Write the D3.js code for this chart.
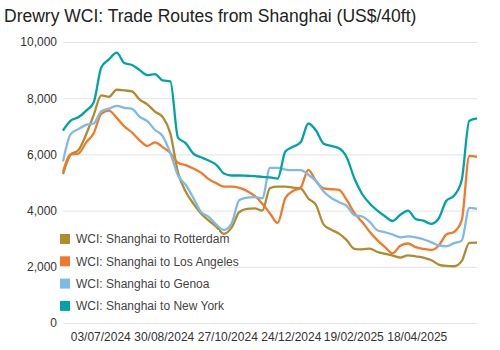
<!DOCTYPE html>
<html>
<head>
<meta charset="utf-8">
<script src="https://cdn.jsdelivr.net/npm/d3@7"></script>
<style>
  body { margin: 0; background: #fff; }
  text { font-family: "Liberation Sans", Arial, sans-serif; }
</style>
</head>
<body>
<div id="chart"></div>
<script>
// weekly Drewry WCI readings, Thursday 30/05/2024 .. 12/06/2025
const startDate = new Date(2024, 4, 30);
const tickDates = ["03/07/2024", "30/08/2024", "27/10/2024", "24/12/2024", "19/02/2025", "18/04/2025"];
const yTicks = [0, 2000, 4000, 6000, 8000, 10000];

const rotterdam = [5300, 6000, 6150, 6700, 7400, 8100, 8050, 8300, 8280, 8240,
  7950, 7780, 7520, 7330, 6750, 5350, 4680, 4250, 3900, 3650,
  3420, 3170, 3400, 3950, 4060, 4080, 4000, 4800, 4850, 4850,
  4820, 4790, 4430, 4200, 3500, 3320, 3180, 2950, 2640, 2620,
  2650, 2530, 2460, 2400, 2330, 2410, 2370, 2330, 2240, 2080,
  2030, 2020, 2200, 2850, 2860];
const losAngeles = [5380, 6000, 6030, 6420, 6750, 7450, 7560, 7300, 7000, 6780,
  6500, 6300, 6430, 6260, 6050, 5700, 5620, 5500, 5350, 5120,
  4970, 4850, 4850, 4810, 4700, 4520, 4240, 3900, 3560, 4450,
  4700, 4820, 5450, 5050, 4790, 4760, 4740, 4380, 3920, 3600,
  3250, 2950, 2700, 2480, 2750, 2830, 2700, 2640, 2600, 2750,
  3150, 3240, 3650, 5950, 5910];
const genoa = [5750, 6720, 6900, 7050, 7100, 7540, 7630, 7730, 7660, 7620,
  7340, 7180, 6870, 6650, 6050, 5250, 4920, 4450, 3950, 3780,
  3500, 3310, 3550, 4380, 4460, 4480, 4440, 5520, 5520, 5460,
  5440, 5440, 5270, 5050, 4680, 4450, 4300, 4170, 3840, 3790,
  3600, 3300, 3230, 3150, 3050, 3080, 3050, 2980, 2880, 2760,
  2730, 2840, 2930, 4100, 4060];
const newYork = [6850, 7200, 7320, 7550, 7850, 9100, 9380, 9620, 9250, 9180,
  9000, 8820, 8860, 8630, 8600, 6600, 6400, 6030, 5900, 5780,
  5630, 5320, 5250, 5250, 5240, 5230, 5200, 5180, 5140, 6100,
  6270, 6430, 7100, 6850, 6380, 6300, 6220, 5900, 5150, 4600,
  4250, 4000, 3800, 3630, 3850, 4000, 3700, 3640, 3530, 3720,
  4350, 4530, 5080, 7200, 7280];

const seriesNames = ["WCI: Shanghai to Rotterdam", "WCI: Shanghai to Los Angeles", "WCI: Shanghai to Genoa", "WCI: Shanghai to New York"];
const colors = ["#b08c30", "#f07a2a", "#7fbae6", "#00a4a4"];

const W = 500, H = 350;
const margin = { top: 42, right: 23, bottom: 27, left: 63 };

const parseTick = d3.timeParse("%d/%m/%Y");
const formatTick = d3.timeFormat("%d/%m/%Y");
const dates = rotterdam.map((_, i) => d3.timeDay.offset(startDate, i * 7));

const svg = d3.select("#chart").append("svg")
  .attr("width", W)
  .attr("height", H);

const x = d3.scaleTime()
  .domain([dates[0], dates[dates.length - 1]])
  .range([margin.left, W - margin.right]);
const y = d3.scaleLinear()
  .domain([0, 10000])
  .range([H - margin.bottom, margin.top]);

// title
svg.append("text")
  .attr("x", 4)
  .attr("y", 22)
  .style("font-size", "17.5px")
  .style("fill", "#222")
  .text("Drewry WCI: Trade Routes from Shanghai (US$/40ft)");

// gridlines + y labels
const yAxis = svg.append("g")
  .attr("transform", `translate(${margin.left},0)`)
  .call(d3.axisLeft(y).tickValues(yTicks).tickFormat(d3.format(",")).tickSize(-(W - margin.left - margin.right)).tickPadding(6));
yAxis.select(".domain").remove();
yAxis.selectAll(".tick line").attr("stroke", "#e3e3e3").attr("stroke-width", 1);
yAxis.selectAll(".tick text").style("font-size", "12px").style("fill", "#333")
  .style("font-family", "'Liberation Sans', Arial, sans-serif");

// x labels
const xAxis = svg.append("g")
  .attr("transform", `translate(0,${H - margin.bottom})`)
  .call(d3.axisBottom(x).tickValues(tickDates.map(parseTick)).tickFormat(formatTick).tickSize(0).tickPadding(9));
xAxis.select(".domain").remove();
xAxis.selectAll(".tick text").style("font-size", "12px").style("fill", "#333")
  .style("font-family", "'Liberation Sans', Arial, sans-serif");

// lines
const allSeries = [rotterdam, losAngeles, genoa, newYork];
const line = d3.line()
  .x((d, i) => x(dates[i]))
  .y(d => y(d))
  .curve(d3.curveMonotoneX);

allSeries.forEach((vals, i) => {
  svg.append("path")
    .datum(vals)
    .attr("fill", "none")
    .attr("stroke", colors[i])
    .attr("stroke-width", 2.3)
    .attr("stroke-linejoin", "round")
    .attr("d", line);
});

// legend
const legend = svg.append("g").attr("transform", "translate(60,234)");
legend.append("rect")
  .attr("x", -3).attr("y", -4)
  .attr("width", 162).attr("height", 84)
  .attr("fill", "#fff");
seriesNames.forEach((name, i) => {
  const g = legend.append("g").attr("transform", `translate(0,${i * 22.3})`);
  g.append("rect").attr("width", 10).attr("height", 10).attr("fill", colors[i]);
  g.append("text")
    .attr("x", 16).attr("y", 5)
    .attr("dy", "0.35em")
    .style("font-size", "12px")
    .style("fill", "#444")
    .text(name);
});
</script>
</body>
</html>
